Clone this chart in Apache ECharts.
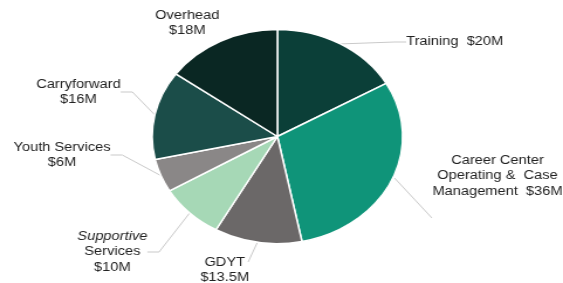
<!DOCTYPE html>
<html>
<head>
<meta charset="utf-8">
<script src="https://cdn.jsdelivr.net/npm/echarts@6/dist/echarts.min.js"></script>
<style>
  html, body { margin: 0; padding: 0; background: #fff; overflow: hidden; }
  /* the source picture is stretched sideways, so the chart is too */
  #chart { width: 481px; height: 283px; transform: scaleX(1.1705); transform-origin: 0 0; }
</style>
</head>
<body>
<div id="chart"></div>
<script>
const categories = ['Training', 'Career Center Operating & Case Management', 'GDYT', 'Supportive Services', 'Youth Services', 'Carryforward', 'Overhead'];
const amounts = [20, 36, 13.5, 10, 6, 16, 18];
const labelTexts = [
  'Training  $20M',
  'Career Center\nOperating &  Case\nManagement  $36M',
  'GDYT\n$13.5M',
  '{i|Supportive}\nServices\n$10M',
  'Youth Services\n$6M',
  'Carryforward\n$16M',
  'Overhead\n$18M'
];
const colors = ['#0b3f38', '#0f9479', '#6b6868', '#a6d8b6', '#8a8787', '#1b4d49', '#0a2723'];

// label anchor spots (unscaled px)
const labelSpots = [
  {x: 347, y: 42, align: 'left'},
  {x: 425, y: 176, align: 'center'},
  {x: 192, y: 270, align: 'center'},
  {x: 96, y: 252, align: 'center'},
  {x: 53, y: 155, align: 'center'},
  {x: 67, y: 92, align: 'center'},
  {x: 160, y: 23, align: 'center'}
];
// hand-placed leaders where the auto ones differ from the source
const leaders = {
  1: [[337, 178], [369, 218]],
  2: [[220, 242], [212, 262]]
};

const chart = echarts.init(document.getElementById('chart'));
const data = categories.map((c, i) => ({
  name: c,
  value: amounts[i],
  itemStyle: { color: colors[i] },
  label: { formatter: labelTexts[i] },
  labelLine: { show: i !== 6 }
}));

chart.setOption({
  animation: false,
  series: [{
    type: 'pie',
    center: [237, 136.5],
    radius: 107,
    startAngle: 90,
    clockwise: true,
    data: data,
    itemStyle: { borderColor: '#ffffff', borderWidth: 1.5 },
    label: {
      show: true,
      position: 'outside',
      color: '#222',
      fontFamily: 'Liberation Sans',
      fontSize: 12.5,
      lineHeight: 15.5,
      align: 'center',
      overflow: 'none',
      rich: { i: { fontStyle: 'italic', fontFamily: 'Liberation Sans', fontSize: 12.5, color: '#222' } }
    },
    labelLine: { lineStyle: { color: '#c9c9c9', width: 1 }, length: 10, length2: 10 },
    labelLayout: function (p) {
      const s = labelSpots[p.dataIndex];
      const out = { x: s.x, y: s.y, align: s.align, verticalAlign: 'middle' };
      if (leaders[p.dataIndex]) out.labelLinePoints = leaders[p.dataIndex];
      return out;
    }
  }]
});
</script>
</body>
</html>
